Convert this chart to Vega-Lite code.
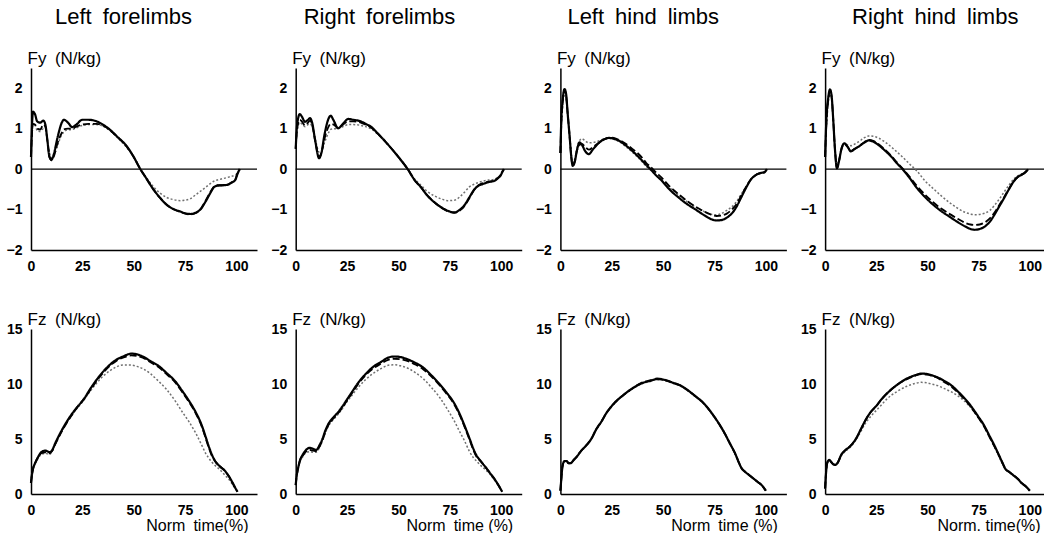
{
"$schema":"https://vega.github.io/schema/vega-lite/v6.json",
"padding":{"left":6,"top":6,"right":0,"bottom":0},
"background":"white",
"data":{"values":[
{"p":"LFy","x":0,"a":0.3,"b":0.3,"c":0.3},{"p":"LFy","x":0.5,"a":1.1,"b":0.9,"c":0.9},{"p":"LFy","x":1,"a":1.42,"b":1.12,"c":1.05},{"p":"LFy","x":2,"a":1.35,"b":1.1,"c":1.08},{"p":"LFy","x":3,"a":1.18,"b":1.0,"c":0.95},{"p":"LFy","x":4.5,"a":1.15,"b":0.98,"c":0.93},{"p":"LFy","x":6,"a":1.2,"b":1.1,"c":1.0},{"p":"LFy","x":7,"a":1.1,"b":1.05,"c":0.98},{"p":"LFy","x":8,"a":0.7,"b":0.7,"c":0.7},{"p":"LFy","x":9,"a":0.3,"b":0.3,"c":0.4},
{"p":"LFy","x":10,"a":0.23,"b":0.22,"c":0.28},{"p":"LFy","x":11,"a":0.35,"b":0.3,"c":0.32},{"p":"LFy","x":13,"a":0.8,"b":0.65,"c":0.6},{"p":"LFy","x":15,"a":1.15,"b":0.9,"c":0.85},{"p":"LFy","x":16,"a":1.22,"b":0.98,"c":0.92},{"p":"LFy","x":18,"a":1.15,"b":1.0,"c":0.97},{"p":"LFy","x":20,"a":1.04,"b":1.0,"c":0.98},{"p":"LFy","x":22,"a":1.1,"b":1.05,"c":1.02},{"p":"LFy","x":25,"a":1.22,"b":1.1,"c":1.08},{"p":"LFy","x":28,"a":1.22,"b":1.12,"c":1.1},
{"p":"LFy","x":32,"a":1.18,"b":1.12,"c":1.1},{"p":"LFy","x":35,"a":1.1,"b":1.08,"c":1.06},{"p":"LFy","x":38.5,"a":0.97,"b":0.96,"c":0.95},{"p":"LFy","x":42,"a":0.8,"b":0.8,"c":0.78},{"p":"LFy","x":46.7,"a":0.56,"b":0.55,"c":0.53},{"p":"LFy","x":50,"a":0.3,"b":0.3,"c":0.3},{"p":"LFy","x":53,"a":0.02,"b":0.02,"c":0.03},{"p":"LFy","x":56,"a":-0.22,"b":-0.22,"c":-0.2},{"p":"LFy","x":59.7,"a":-0.51,"b":-0.51,"c":-0.44},{"p":"LFy","x":63,"a":-0.72,"b":-0.72,"c":-0.6},
{"p":"LFy","x":66,"a":-0.88,"b":-0.88,"c":-0.7},{"p":"LFy","x":69,"a":-0.98,"b":-0.98,"c":-0.75},{"p":"LFy","x":72.7,"a":-1.05,"b":-1.06,"c":-0.78},{"p":"LFy","x":75,"a":-1.09,"b":-1.1,"c":-0.77},{"p":"LFy","x":77.6,"a":-1.11,"b":-1.12,"c":-0.73},{"p":"LFy","x":80,"a":-1.08,"b":-1.09,"c":-0.64},{"p":"LFy","x":82.4,"a":-1.0,"b":-1.0,"c":-0.55},{"p":"LFy","x":85,"a":-0.8,"b":-0.78,"c":-0.45},{"p":"LFy","x":87.3,"a":-0.59,"b":-0.57,"c":-0.36},{"p":"LFy","x":89,"a":-0.45,"b":-0.44,"c":-0.3},
{"p":"LFy","x":90.6,"a":-0.41,"b":-0.4,"c":-0.27},{"p":"LFy","x":93,"a":-0.4,"b":-0.4,"c":-0.24},{"p":"LFy","x":95.4,"a":-0.39,"b":-0.39,"c":-0.21},{"p":"LFy","x":97.5,"a":-0.34,"b":-0.33,"c":-0.18},{"p":"LFy","x":99.5,"a":-0.26,"b":-0.25,"c":-0.15},{"p":"LFy","x":100.5,"a":-0.12,"b":-0.1,"c":-0.08},{"p":"LFy","x":101.6,"a":0,"b":0,"c":0},

{"p":"RFy","x":0,"a":0.5,"b":0.5,"c":0.5},{"p":"RFy","x":0.7,"a":1.1,"b":1.0,"c":0.95},{"p":"RFy","x":2,"a":1.36,"b":1.22,"c":1.15},{"p":"RFy","x":3,"a":1.3,"b":1.18,"c":1.12},{"p":"RFy","x":4.5,"a":1.17,"b":1.08,"c":1.05},{"p":"RFy","x":6,"a":1.22,"b":1.15,"c":1.1},{"p":"RFy","x":7,"a":1.26,"b":1.2,"c":1.12},{"p":"RFy","x":8,"a":1.15,"b":1.1,"c":1.05},{"p":"RFy","x":9.5,"a":0.7,"b":0.7,"c":0.75},{"p":"RFy","x":11.4,"a":0.27,"b":0.3,"c":0.42},
{"p":"RFy","x":12.5,"a":0.4,"b":0.4,"c":0.42},{"p":"RFy","x":14,"a":0.85,"b":0.75,"c":0.65},{"p":"RFy","x":16,"a":1.25,"b":1.05,"c":0.9},{"p":"RFy","x":17,"a":1.32,"b":1.12,"c":0.98},{"p":"RFy","x":18.5,"a":1.2,"b":1.1,"c":1.0},{"p":"RFy","x":20.6,"a":1.01,"b":1.02,"c":1.0},{"p":"RFy","x":23,"a":1.12,"b":1.1,"c":1.05},{"p":"RFy","x":25.5,"a":1.24,"b":1.18,"c":1.1},{"p":"RFy","x":28,"a":1.22,"b":1.18,"c":1.1},{"p":"RFy","x":31.7,"a":1.18,"b":1.15,"c":1.08},
{"p":"RFy","x":34,"a":1.12,"b":1.1,"c":1.05},{"p":"RFy","x":36.6,"a":1.05,"b":1.03,"c":1.0},{"p":"RFy","x":40,"a":0.88,"b":0.87,"c":0.86},{"p":"RFy","x":44.7,"a":0.62,"b":0.62,"c":0.62},{"p":"RFy","x":50,"a":0.3,"b":0.3,"c":0.3},{"p":"RFy","x":54.5,"a":0,"b":0,"c":0},{"p":"RFy","x":58,"a":-0.28,"b":-0.28,"c":-0.25},{"p":"RFy","x":61,"a":-0.45,"b":-0.45,"c":-0.4},{"p":"RFy","x":64,"a":-0.65,"b":-0.65,"c":-0.55},{"p":"RFy","x":67.5,"a":-0.82,"b":-0.82,"c":-0.66},
{"p":"RFy","x":71,"a":-0.95,"b":-0.96,"c":-0.74},{"p":"RFy","x":74,"a":-1.03,"b":-1.04,"c":-0.78},{"p":"RFy","x":77.2,"a":-1.07,"b":-1.08,"c":-0.77},{"p":"RFy","x":80,"a":-1.0,"b":-1.02,"c":-0.68},{"p":"RFy","x":82,"a":-0.9,"b":-0.92,"c":-0.58},{"p":"RFy","x":84.5,"a":-0.7,"b":-0.72,"c":-0.44},{"p":"RFy","x":87,"a":-0.5,"b":-0.5,"c":-0.37},{"p":"RFy","x":89,"a":-0.41,"b":-0.4,"c":-0.33},{"p":"RFy","x":91,"a":-0.37,"b":-0.35,"c":-0.3},{"p":"RFy","x":94,"a":-0.32,"b":-0.31,"c":-0.27},
{"p":"RFy","x":96.7,"a":-0.29,"b":-0.28,"c":-0.25},{"p":"RFy","x":98.5,"a":-0.22,"b":-0.22,"c":-0.2},{"p":"RFy","x":99.7,"a":-0.16,"b":-0.15,"c":-0.14},{"p":"RFy","x":100.5,"a":-0.08,"b":-0.07,"c":-0.07},{"p":"RFy","x":101.3,"a":0,"b":0,"c":0},

{"p":"LHy","x":0,"a":0.4,"b":0.4,"c":0.4},{"p":"LHy","x":0.5,"a":1.3,"b":1.2,"c":1.1},{"p":"LHy","x":1,"a":1.65,"b":1.6,"c":1.5},{"p":"LHy","x":2,"a":1.98,"b":1.95,"c":1.85},{"p":"LHy","x":2.8,"a":1.85,"b":1.8,"c":1.75},{"p":"LHy","x":3.5,"a":1.4,"b":1.4,"c":1.4},{"p":"LHy","x":4.5,"a":0.8,"b":0.8,"c":0.85},{"p":"LHy","x":5.3,"a":0.3,"b":0.3,"c":0.4},{"p":"LHy","x":6,"a":0.08,"b":0.08,"c":0.15},{"p":"LHy","x":7,"a":0.18,"b":0.2,"c":0.25},
{"p":"LHy","x":8,"a":0.45,"b":0.45,"c":0.5},{"p":"LHy","x":9.3,"a":0.66,"b":0.6,"c":0.7},{"p":"LHy","x":10.5,"a":0.6,"b":0.62,"c":0.75},{"p":"LHy","x":12,"a":0.45,"b":0.55,"c":0.7},{"p":"LHy","x":13.8,"a":0.37,"b":0.48,"c":0.65},{"p":"LHy","x":16,"a":0.5,"b":0.55,"c":0.66},{"p":"LHy","x":19,"a":0.66,"b":0.66,"c":0.7},{"p":"LHy","x":21,"a":0.73,"b":0.73,"c":0.74},{"p":"LHy","x":23.8,"a":0.77,"b":0.78,"c":0.76},{"p":"LHy","x":26,"a":0.75,"b":0.77,"c":0.74},
{"p":"LHy","x":28.6,"a":0.7,"b":0.72,"c":0.68},{"p":"LHy","x":32,"a":0.58,"b":0.62,"c":0.55},{"p":"LHy","x":35,"a":0.45,"b":0.5,"c":0.42},{"p":"LHy","x":37.5,"a":0.33,"b":0.4,"c":0.3},{"p":"LHy","x":39.8,"a":0.21,"b":0.28,"c":0.18},{"p":"LHy","x":41.8,"a":0.1,"b":0.15,"c":0.07},{"p":"LHy","x":43.8,"a":0,"b":0.06,"c":-0.02},{"p":"LHy","x":46.5,"a":-0.15,"b":-0.08,"c":-0.15},{"p":"LHy","x":49.4,"a":-0.29,"b":-0.22,"c":-0.28},{"p":"LHy","x":53,"a":-0.5,"b":-0.42,"c":-0.45},
{"p":"LHy","x":57.5,"a":-0.7,"b":-0.62,"c":-0.64},{"p":"LHy","x":61.5,"a":-0.86,"b":-0.78,"c":-0.8},{"p":"LHy","x":65.5,"a":-0.99,"b":-0.92,"c":-0.93},{"p":"LHy","x":70,"a":-1.14,"b":-1.05,"c":-1.05},{"p":"LHy","x":73.5,"a":-1.24,"b":-1.13,"c":-1.12},{"p":"LHy","x":76,"a":-1.27,"b":-1.16,"c":-1.13},{"p":"LHy","x":78.3,"a":-1.26,"b":-1.15,"c":-1.1},{"p":"LHy","x":81,"a":-1.2,"b":-1.1,"c":-1.02},{"p":"LHy","x":83,"a":-1.12,"b":-1.02,"c":-0.95},{"p":"LHy","x":85.5,"a":-0.95,"b":-0.88,"c":-0.82},
{"p":"LHy","x":88,"a":-0.7,"b":-0.66,"c":-0.62},{"p":"LHy","x":90.5,"a":-0.45,"b":-0.43,"c":-0.42},{"p":"LHy","x":92.8,"a":-0.25,"b":-0.25,"c":-0.25},{"p":"LHy","x":94.5,"a":-0.17,"b":-0.17,"c":-0.17},{"p":"LHy","x":96,"a":-0.12,"b":-0.12,"c":-0.12},{"p":"LHy","x":98,"a":-0.09,"b":-0.09,"c":-0.09},{"p":"LHy","x":99.2,"a":-0.08,"b":-0.08,"c":-0.07},{"p":"LHy","x":100.5,"a":0,"b":0,"c":0},

{"p":"RHy","x":0,"a":0.3,"b":0.3,"c":0.3},{"p":"RHy","x":0.6,"a":1.2,"b":1.1,"c":1.0},{"p":"RHy","x":1.5,"a":1.75,"b":1.7,"c":1.6},{"p":"RHy","x":2.4,"a":1.97,"b":1.93,"c":1.9},{"p":"RHy","x":3.2,"a":1.8,"b":1.78,"c":1.75},{"p":"RHy","x":4,"a":1.2,"b":1.2,"c":1.2},{"p":"RHy","x":4.8,"a":0.5,"b":0.5,"c":0.55},{"p":"RHy","x":5.8,"a":0.02,"b":0.03,"c":0.1},{"p":"RHy","x":6.8,"a":0.2,"b":0.2,"c":0.25},{"p":"RHy","x":8,"a":0.5,"b":0.5,"c":0.52},
{"p":"RHy","x":9.4,"a":0.64,"b":0.62,"c":0.64},{"p":"RHy","x":11,"a":0.55,"b":0.55,"c":0.6},{"p":"RHy","x":12.6,"a":0.44,"b":0.45,"c":0.58},{"p":"RHy","x":14.5,"a":0.5,"b":0.5,"c":0.62},{"p":"RHy","x":16.5,"a":0.56,"b":0.57,"c":0.68},{"p":"RHy","x":19,"a":0.65,"b":0.66,"c":0.77},{"p":"RHy","x":21.3,"a":0.71,"b":0.72,"c":0.82},{"p":"RHy","x":23.5,"a":0.68,"b":0.7,"c":0.81},{"p":"RHy","x":26,"a":0.6,"b":0.62,"c":0.77},{"p":"RHy","x":29,"a":0.47,"b":0.49,"c":0.68},
{"p":"RHy","x":32.3,"a":0.31,"b":0.33,"c":0.55},{"p":"RHy","x":35,"a":0.15,"b":0.17,"c":0.43},{"p":"RHy","x":37.8,"a":0,"b":0.02,"c":0.3},{"p":"RHy","x":41,"a":-0.2,"b":-0.17,"c":0.14},{"p":"RHy","x":44.9,"a":-0.47,"b":-0.42,"c":-0.05},{"p":"RHy","x":49,"a":-0.7,"b":-0.64,"c":-0.3},{"p":"RHy","x":52.8,"a":-0.88,"b":-0.82,"c":-0.48},{"p":"RHy","x":56.5,"a":-1.03,"b":-0.97,"c":-0.65},{"p":"RHy","x":60.6,"a":-1.17,"b":-1.1,"c":-0.82},{"p":"RHy","x":64.5,"a":-1.3,"b":-1.22,"c":-0.96},
{"p":"RHy","x":68.5,"a":-1.42,"b":-1.33,"c":-1.07},{"p":"RHy","x":71,"a":-1.48,"b":-1.37,"c":-1.11},{"p":"RHy","x":73.2,"a":-1.5,"b":-1.38,"c":-1.13},{"p":"RHy","x":75.5,"a":-1.48,"b":-1.37,"c":-1.12},{"p":"RHy","x":78,"a":-1.42,"b":-1.32,"c":-1.09},{"p":"RHy","x":80.5,"a":-1.3,"b":-1.22,"c":-1.02},{"p":"RHy","x":82.7,"a":-1.13,"b":-1.08,"c":-0.9},{"p":"RHy","x":85,"a":-0.93,"b":-0.9,"c":-0.75},{"p":"RHy","x":87.4,"a":-0.72,"b":-0.7,"c":-0.57},{"p":"RHy","x":89.8,"a":-0.5,"b":-0.49,"c":-0.4},
{"p":"RHy","x":92.1,"a":-0.31,"b":-0.3,"c":-0.25},{"p":"RHy","x":94,"a":-0.2,"b":-0.2,"c":-0.17},{"p":"RHy","x":96,"a":-0.14,"b":-0.14,"c":-0.12},{"p":"RHy","x":97.8,"a":-0.08,"b":-0.08,"c":-0.07},{"p":"RHy","x":99.2,"a":0,"b":0,"c":0},

{"p":"LFz","x":0,"a":1.0,"b":1.0,"c":1.0},{"p":"LFz","x":0.5,"a":1.8,"b":1.8,"c":1.8},{"p":"LFz","x":1,"a":2.3,"b":2.3,"c":2.3},{"p":"LFz","x":2,"a":2.8,"b":2.8,"c":2.8},{"p":"LFz","x":3,"a":3.2,"b":3.2,"c":3.1},{"p":"LFz","x":5,"a":3.8,"b":3.7,"c":3.6},{"p":"LFz","x":7,"a":3.95,"b":3.8,"c":3.7},{"p":"LFz","x":9,"a":3.8,"b":3.7,"c":3.6},{"p":"LFz","x":10,"a":3.9,"b":3.85,"c":3.8},{"p":"LFz","x":12,"a":4.7,"b":4.6,"c":4.6},
{"p":"LFz","x":15,"a":5.8,"b":5.7,"c":5.7},{"p":"LFz","x":17.5,"a":6.6,"b":6.5,"c":6.5},{"p":"LFz","x":20,"a":7.3,"b":7.2,"c":7.2},{"p":"LFz","x":22.5,"a":7.9,"b":7.9,"c":7.8},{"p":"LFz","x":25.6,"a":8.6,"b":8.6,"c":8.5},{"p":"LFz","x":29,"a":9.6,"b":9.5,"c":9.4},{"p":"LFz","x":32,"a":10.4,"b":10.3,"c":10.1},{"p":"LFz","x":35,"a":11.1,"b":11.0,"c":10.7},{"p":"LFz","x":38.4,"a":11.75,"b":11.65,"c":11.2},{"p":"LFz","x":41.5,"a":12.2,"b":12.1,"c":11.55},
{"p":"LFz","x":44.8,"a":12.5,"b":12.4,"c":11.72},{"p":"LFz","x":48.8,"a":12.76,"b":12.6,"c":11.72},{"p":"LFz","x":51.5,"a":12.7,"b":12.55,"c":11.6},{"p":"LFz","x":54.4,"a":12.5,"b":12.4,"c":11.4},{"p":"LFz","x":58,"a":12.1,"b":12.0,"c":10.95},{"p":"LFz","x":62.4,"a":11.6,"b":11.5,"c":10.2},{"p":"LFz","x":66,"a":11.0,"b":10.9,"c":9.5},{"p":"LFz","x":70.4,"a":10.2,"b":10.1,"c":8.4},{"p":"LFz","x":73.5,"a":9.4,"b":9.3,"c":7.5},{"p":"LFz","x":76.8,"a":8.5,"b":8.4,"c":6.6},
{"p":"LFz","x":80,"a":7.5,"b":7.4,"c":5.6},{"p":"LFz","x":83.2,"a":6.2,"b":6.1,"c":4.4},{"p":"LFz","x":85,"a":5.2,"b":5.1,"c":3.7},{"p":"LFz","x":86.4,"a":4.4,"b":4.3,"c":3.3},{"p":"LFz","x":88,"a":3.6,"b":3.5,"c":2.9},{"p":"LFz","x":89.6,"a":3.0,"b":3.0,"c":2.6},{"p":"LFz","x":92,"a":2.5,"b":2.5,"c":2.2},{"p":"LFz","x":94.4,"a":2.1,"b":2.1,"c":1.7},{"p":"LFz","x":96,"a":1.7,"b":1.7,"c":1.4},{"p":"LFz","x":97.6,"a":1.2,"b":1.2,"c":1.0},
{"p":"LFz","x":99,"a":0.7,"b":0.7,"c":0.6},{"p":"LFz","x":100.5,"a":0.2,"b":0.2,"c":0.2},

{"p":"RFz","x":0,"a":0.8,"b":0.8,"c":0.8},{"p":"RFz","x":0.5,"a":1.7,"b":1.7,"c":1.6},{"p":"RFz","x":1,"a":2.2,"b":2.2,"c":2.1},{"p":"RFz","x":2,"a":3.0,"b":3.0,"c":2.9},{"p":"RFz","x":3.5,"a":3.6,"b":3.5,"c":3.4},{"p":"RFz","x":5,"a":4.0,"b":3.85,"c":3.75},{"p":"RFz","x":7,"a":4.2,"b":4.0,"c":3.85},{"p":"RFz","x":8.5,"a":4.1,"b":3.95,"c":3.8},{"p":"RFz","x":10,"a":4.0,"b":3.9,"c":3.8},{"p":"RFz","x":11.5,"a":4.4,"b":4.3,"c":4.2},
{"p":"RFz","x":13,"a":5.0,"b":4.9,"c":4.8},{"p":"RFz","x":14.5,"a":5.8,"b":5.7,"c":5.6},{"p":"RFz","x":16,"a":6.4,"b":6.3,"c":6.2},{"p":"RFz","x":18,"a":6.9,"b":6.8,"c":6.7},{"p":"RFz","x":20,"a":7.3,"b":7.2,"c":7.1},{"p":"RFz","x":22.5,"a":7.9,"b":7.8,"c":7.7},{"p":"RFz","x":25,"a":8.6,"b":8.5,"c":8.4},{"p":"RFz","x":27.5,"a":9.3,"b":9.2,"c":9.0},{"p":"RFz","x":30,"a":10.0,"b":9.9,"c":9.6},{"p":"RFz","x":34,"a":10.9,"b":10.8,"c":10.4},
{"p":"RFz","x":38,"a":11.6,"b":11.45,"c":11.0},{"p":"RFz","x":41.5,"a":12.0,"b":11.85,"c":11.4},{"p":"RFz","x":45,"a":12.4,"b":12.2,"c":11.7},{"p":"RFz","x":48,"a":12.5,"b":12.3,"c":11.75},{"p":"RFz","x":51,"a":12.45,"b":12.25,"c":11.65},{"p":"RFz","x":55,"a":12.2,"b":12.05,"c":11.4},{"p":"RFz","x":58.5,"a":11.9,"b":11.75,"c":11.0},{"p":"RFz","x":62,"a":11.5,"b":11.35,"c":10.5},{"p":"RFz","x":66,"a":10.8,"b":10.7,"c":9.7},{"p":"RFz","x":70,"a":10.0,"b":9.9,"c":8.8},
{"p":"RFz","x":73.5,"a":9.2,"b":9.1,"c":7.8},{"p":"RFz","x":77,"a":8.3,"b":8.2,"c":6.7},{"p":"RFz","x":80,"a":7.2,"b":7.1,"c":5.6},{"p":"RFz","x":82,"a":6.3,"b":6.2,"c":4.9},{"p":"RFz","x":84.5,"a":5.1,"b":5.0,"c":3.9},{"p":"RFz","x":86.5,"a":4.1,"b":4.0,"c":3.3},{"p":"RFz","x":88,"a":3.5,"b":3.4,"c":3.0},{"p":"RFz","x":90,"a":3.0,"b":3.0,"c":2.6},{"p":"RFz","x":93,"a":2.3,"b":2.3,"c":2.1},{"p":"RFz","x":95,"a":1.8,"b":1.8,"c":1.7},
{"p":"RFz","x":97,"a":1.3,"b":1.3,"c":1.2},{"p":"RFz","x":99,"a":0.7,"b":0.7,"c":0.7},{"p":"RFz","x":100.5,"a":0.2,"b":0.2,"c":0.2},

{"p":"LHz","x":0,"a":0.3,"b":0.3,"c":0.3},{"p":"LHz","x":0.5,"a":1.5,"b":1.5,"c":1.5},{"p":"LHz","x":1,"a":2.5,"b":2.5,"c":2.4},{"p":"LHz","x":2,"a":3.0,"b":3.0,"c":2.9},{"p":"LHz","x":3,"a":3.0,"b":3.0,"c":2.9},{"p":"LHz","x":4,"a":2.8,"b":2.8,"c":2.8},{"p":"LHz","x":5,"a":2.8,"b":2.8,"c":2.8},{"p":"LHz","x":6.5,"a":3.1,"b":3.1,"c":3.1},{"p":"LHz","x":8,"a":3.4,"b":3.4,"c":3.4},{"p":"LHz","x":10,"a":3.9,"b":3.9,"c":3.9},
{"p":"LHz","x":12,"a":4.3,"b":4.3,"c":4.3},{"p":"LHz","x":15,"a":5.0,"b":5.0,"c":5.0},{"p":"LHz","x":17.5,"a":5.9,"b":5.9,"c":5.85},{"p":"LHz","x":20,"a":6.6,"b":6.6,"c":6.55},{"p":"LHz","x":22.5,"a":7.4,"b":7.4,"c":7.35},{"p":"LHz","x":25,"a":8.0,"b":8.0,"c":7.95},{"p":"LHz","x":27.5,"a":8.5,"b":8.5,"c":8.45},{"p":"LHz","x":30,"a":8.9,"b":8.9,"c":8.85},{"p":"LHz","x":35,"a":9.6,"b":9.6,"c":9.55},{"p":"LHz","x":40,"a":10.1,"b":10.15,"c":10.05},
{"p":"LHz","x":44,"a":10.3,"b":10.35,"c":10.25},{"p":"LHz","x":47,"a":10.45,"b":10.5,"c":10.4},{"p":"LHz","x":50,"a":10.4,"b":10.45,"c":10.35},{"p":"LHz","x":52,"a":10.3,"b":10.3,"c":10.25},{"p":"LHz","x":55,"a":10.1,"b":10.1,"c":10.05},{"p":"LHz","x":58,"a":9.9,"b":9.9,"c":9.85},{"p":"LHz","x":61.5,"a":9.5,"b":9.5,"c":9.45},{"p":"LHz","x":65,"a":9.0,"b":9.0,"c":8.95},{"p":"LHz","x":70,"a":8.2,"b":8.2,"c":8.15},{"p":"LHz","x":75,"a":7.0,"b":7.0,"c":6.95},
{"p":"LHz","x":77.5,"a":6.3,"b":6.3,"c":6.25},{"p":"LHz","x":80,"a":5.5,"b":5.5,"c":5.45},{"p":"LHz","x":82.5,"a":4.6,"b":4.6,"c":4.55},{"p":"LHz","x":85,"a":3.7,"b":3.7,"c":3.65},{"p":"LHz","x":87,"a":2.8,"b":2.8,"c":2.8},{"p":"LHz","x":88,"a":2.4,"b":2.4,"c":2.4},{"p":"LHz","x":90,"a":2.0,"b":2.0,"c":2.0},{"p":"LHz","x":92,"a":1.7,"b":1.7,"c":1.7},{"p":"LHz","x":94,"a":1.4,"b":1.4,"c":1.4},{"p":"LHz","x":96,"a":1.1,"b":1.1,"c":1.1},
{"p":"LHz","x":98,"a":0.8,"b":0.8,"c":0.8},{"p":"LHz","x":100,"a":0.3,"b":0.3,"c":0.3},

{"p":"RHz","x":0,"a":0.5,"b":0.5,"c":0.5},{"p":"RHz","x":0.5,"a":2.0,"b":2.0,"c":2.0},{"p":"RHz","x":1,"a":2.8,"b":2.8,"c":2.8},{"p":"RHz","x":2,"a":3.1,"b":3.1,"c":3.1},{"p":"RHz","x":3,"a":2.9,"b":2.9,"c":2.9},{"p":"RHz","x":4,"a":2.7,"b":2.7,"c":2.7},{"p":"RHz","x":5,"a":2.65,"b":2.65,"c":2.65},{"p":"RHz","x":6,"a":2.8,"b":2.8,"c":2.8},{"p":"RHz","x":8,"a":3.6,"b":3.6,"c":3.5},{"p":"RHz","x":10,"a":4.0,"b":4.0,"c":3.9},
{"p":"RHz","x":12,"a":4.3,"b":4.3,"c":4.2},{"p":"RHz","x":15,"a":5.0,"b":5.0,"c":4.9},{"p":"RHz","x":17.5,"a":5.9,"b":5.9,"c":5.7},{"p":"RHz","x":20,"a":6.8,"b":6.8,"c":6.5},{"p":"RHz","x":22.5,"a":7.5,"b":7.5,"c":7.1},{"p":"RHz","x":25,"a":8.0,"b":8.0,"c":7.6},{"p":"RHz","x":27.5,"a":8.6,"b":8.6,"c":8.1},{"p":"RHz","x":30,"a":9.1,"b":9.1,"c":8.6},{"p":"RHz","x":35,"a":9.9,"b":9.9,"c":9.3},{"p":"RHz","x":40,"a":10.5,"b":10.45,"c":9.8},
{"p":"RHz","x":44,"a":10.8,"b":10.75,"c":10.05},{"p":"RHz","x":47,"a":10.95,"b":10.9,"c":10.15},{"p":"RHz","x":50,"a":10.9,"b":10.85,"c":10.1},{"p":"RHz","x":52,"a":10.8,"b":10.75,"c":10.0},{"p":"RHz","x":55,"a":10.6,"b":10.55,"c":9.85},{"p":"RHz","x":58,"a":10.3,"b":10.2,"c":9.6},{"p":"RHz","x":61.5,"a":9.9,"b":9.8,"c":9.3},{"p":"RHz","x":65,"a":9.3,"b":9.2,"c":8.9},{"p":"RHz","x":70,"a":8.3,"b":8.2,"c":8.1},{"p":"RHz","x":75,"a":7.0,"b":6.9,"c":6.9},
{"p":"RHz","x":77.5,"a":6.3,"b":6.2,"c":6.2},{"p":"RHz","x":80,"a":5.4,"b":5.3,"c":5.3},{"p":"RHz","x":82.5,"a":4.5,"b":4.4,"c":4.4},{"p":"RHz","x":85,"a":3.5,"b":3.5,"c":3.4},{"p":"RHz","x":87,"a":2.7,"b":2.7,"c":2.6},{"p":"RHz","x":88,"a":2.3,"b":2.3,"c":2.3},{"p":"RHz","x":90,"a":2.0,"b":2.0,"c":2.0},{"p":"RHz","x":92,"a":1.7,"b":1.7,"c":1.7},{"p":"RHz","x":94,"a":1.4,"b":1.4,"c":1.4},{"p":"RHz","x":96,"a":1.0,"b":1.0,"c":1.0},
{"p":"RHz","x":98,"a":0.7,"b":0.7,"c":0.7},{"p":"RHz","x":100,"a":0.3,"b":0.3,"c":0.3}
]},
"vconcat":[
{"hconcat":[
{"width":226,"height":182,"title":{"text":"Left\u2002forelimbs","dx":24},
 "layer":[
  {"data":{"values":[{}]},"mark":{"type":"rule","color":"#000","strokeWidth":1.4},"encoding":{"y":{"datum":0,"type":"quantitative"}}},
  {"transform":[{"filter":"datum.p=='LFy'"},{"fold":["c","b","a"],"as":["s","v"]}],
   "mark":{"type":"line"},
   "encoding":{
    "x":{"field":"x","type":"quantitative","scale":{"domain":[0,110],"nice":false,"zero":false},"axis":{"title":null,"values":[0,25,50,75,100]}},
    "y":{"field":"v","type":"quantitative","scale":{"domain":[-2,2.5],"nice":false,"zero":false},"axis":{"values":[-2,-1,0,1,2],"title":"Fy\u2002(N/kg)"}},
    "color":{"field":"s","type":"nominal","scale":{"domain":["a","b","c"],"range":["#000000","#000000","#707070"]},"legend":null},
    "strokeDash":{"field":"s","type":"nominal","scale":{"domain":["a","b","c"],"range":[[1,0],[7,3],[2,2]]},"legend":null},
    "strokeWidth":{"field":"s","type":"ordinal","scale":{"domain":["a","b","c"],"range":[2.2,1.5,1]},"legend":null}
   }}
 ]},
{"width":226,"height":182,"title":{"text":"Right\u2002forelimbs","dx":8},
 "layer":[
  {"data":{"values":[{}]},"mark":{"type":"rule","color":"#000","strokeWidth":1.4},"encoding":{"y":{"datum":0,"type":"quantitative"}}},
  {"transform":[{"filter":"datum.p=='RFy'"},{"fold":["c","b","a"],"as":["s","v"]}],
   "mark":{"type":"line"},
   "encoding":{
    "x":{"field":"x","type":"quantitative","scale":{"domain":[0,110],"nice":false,"zero":false},"axis":{"title":null,"values":[0,25,50,75,100]}},
    "y":{"field":"v","type":"quantitative","scale":{"domain":[-2,2.5],"nice":false,"zero":false},"axis":{"values":[-2,-1,0,1,2],"title":"Fy\u2002(N/kg)"}},
    "color":{"field":"s","type":"nominal","scale":{"domain":["a","b","c"],"range":["#000000","#000000","#707070"]},"legend":null},
    "strokeDash":{"field":"s","type":"nominal","scale":{"domain":["a","b","c"],"range":[[1,0],[7,3],[2,2]]},"legend":null},
    "strokeWidth":{"field":"s","type":"ordinal","scale":{"domain":["a","b","c"],"range":[2.2,1.5,1]},"legend":null}
   }}
 ]},
{"width":226,"height":182,"title":{"text":"Left\u2002hind\u2002limbs","dx":7},
 "layer":[
  {"data":{"values":[{}]},"mark":{"type":"rule","color":"#000","strokeWidth":1.4},"encoding":{"y":{"datum":0,"type":"quantitative"}}},
  {"transform":[{"filter":"datum.p=='LHy'"},{"fold":["c","b","a"],"as":["s","v"]}],
   "mark":{"type":"line"},
   "encoding":{
    "x":{"field":"x","type":"quantitative","scale":{"domain":[0,110],"nice":false,"zero":false},"axis":{"title":null,"values":[0,25,50,75,100]}},
    "y":{"field":"v","type":"quantitative","scale":{"domain":[-2,2.5],"nice":false,"zero":false},"axis":{"values":[-2,-1,0,1,2],"title":"Fy\u2002(N/kg)"}},
    "color":{"field":"s","type":"nominal","scale":{"domain":["a","b","c"],"range":["#000000","#000000","#707070"]},"legend":null},
    "strokeDash":{"field":"s","type":"nominal","scale":{"domain":["a","b","c"],"range":[[1,0],[7,3],[2,2]]},"legend":null},
    "strokeWidth":{"field":"s","type":"ordinal","scale":{"domain":["a","b","c"],"range":[2.2,1.5,1]},"legend":null}
   }}
 ]},
{"width":219,"height":182,"title":{"text":"Right\u2002hind\u2002limbs","dx":27},
 "layer":[
  {"data":{"values":[{}]},"mark":{"type":"rule","color":"#000","strokeWidth":1.4},"encoding":{"y":{"datum":0,"type":"quantitative"}}},
  {"transform":[{"filter":"datum.p=='RHy'"},{"fold":["c","b","a"],"as":["s","v"]}],
   "mark":{"type":"line"},
   "encoding":{
    "x":{"field":"x","type":"quantitative","scale":{"domain":[0,107],"nice":false,"zero":false},"axis":{"title":null,"values":[0,25,50,75,100]}},
    "y":{"field":"v","type":"quantitative","scale":{"domain":[-2,2.5],"nice":false,"zero":false},"axis":{"values":[-2,-1,0,1,2],"title":"Fy\u2002(N/kg)"}},
    "color":{"field":"s","type":"nominal","scale":{"domain":["a","b","c"],"range":["#000000","#000000","#707070"]},"legend":null},
    "strokeDash":{"field":"s","type":"nominal","scale":{"domain":["a","b","c"],"range":[[1,0],[7,3],[2,2]]},"legend":null},
    "strokeWidth":{"field":"s","type":"ordinal","scale":{"domain":["a","b","c"],"range":[2.2,1.5,1]},"legend":null}
   }}
 ]}
],"spacing":38.7,"bounds":"flush","resolve":{"scale":{"x":"independent","y":"independent"}}},
{"hconcat":[
{"width":226,"height":165,
 "transform":[{"filter":"datum.p=='LFz'"},{"fold":["c","b","a"],"as":["s","v"]}],
 "mark":{"type":"line"},
 "encoding":{
  "x":{"field":"x","type":"quantitative","scale":{"domain":[0,110],"nice":false,"zero":false},"axis":{"values":[0,25,50,75,100],"title":"Norm\u2002time(%)","titleX":217,"titleY":36,"titleAlign":"right","titleBaseline":"alphabetic","titleFontSize":16}},
  "y":{"field":"v","type":"quantitative","scale":{"domain":[0,15],"nice":false,"zero":false},"axis":{"values":[0,5,10,15],"title":"Fz\u2002(N/kg)"}},
  "color":{"field":"s","type":"nominal","scale":{"domain":["a","b","c"],"range":["#000000","#000000","#707070"]},"legend":null},
  "strokeDash":{"field":"s","type":"nominal","scale":{"domain":["a","b","c"],"range":[[1,0],[7,3],[2,2]]},"legend":null},
  "strokeWidth":{"field":"s","type":"ordinal","scale":{"domain":["a","b","c"],"range":[2.2,1.5,1]},"legend":null}
 }},
{"width":226,"height":165,
 "transform":[{"filter":"datum.p=='RFz'"},{"fold":["c","b","a"],"as":["s","v"]}],
 "mark":{"type":"line"},
 "encoding":{
  "x":{"field":"x","type":"quantitative","scale":{"domain":[0,110],"nice":false,"zero":false},"axis":{"values":[0,25,50,75,100],"title":"Norm\u2002time (%)","titleX":217,"titleY":36,"titleAlign":"right","titleBaseline":"alphabetic","titleFontSize":16}},
  "y":{"field":"v","type":"quantitative","scale":{"domain":[0,15],"nice":false,"zero":false},"axis":{"values":[0,5,10,15],"title":"Fz\u2002(N/kg)"}},
  "color":{"field":"s","type":"nominal","scale":{"domain":["a","b","c"],"range":["#000000","#000000","#707070"]},"legend":null},
  "strokeDash":{"field":"s","type":"nominal","scale":{"domain":["a","b","c"],"range":[[1,0],[7,3],[2,2]]},"legend":null},
  "strokeWidth":{"field":"s","type":"ordinal","scale":{"domain":["a","b","c"],"range":[2.2,1.5,1]},"legend":null}
 }},
{"width":226,"height":165,
 "transform":[{"filter":"datum.p=='LHz'"},{"fold":["c","b","a"],"as":["s","v"]}],
 "mark":{"type":"line"},
 "encoding":{
  "x":{"field":"x","type":"quantitative","scale":{"domain":[0,110],"nice":false,"zero":false},"axis":{"values":[0,25,50,75,100],"title":"Norm\u2002time (%)","titleX":217,"titleY":36,"titleAlign":"right","titleBaseline":"alphabetic","titleFontSize":16}},
  "y":{"field":"v","type":"quantitative","scale":{"domain":[0,15],"nice":false,"zero":false},"axis":{"values":[0,5,10,15],"title":"Fz\u2002(N/kg)"}},
  "color":{"field":"s","type":"nominal","scale":{"domain":["a","b","c"],"range":["#000000","#000000","#707070"]},"legend":null},
  "strokeDash":{"field":"s","type":"nominal","scale":{"domain":["a","b","c"],"range":[[1,0],[7,3],[2,2]]},"legend":null},
  "strokeWidth":{"field":"s","type":"ordinal","scale":{"domain":["a","b","c"],"range":[2.2,1.5,1]},"legend":null}
 }},
{"width":219,"height":165,
 "transform":[{"filter":"datum.p=='RHz'"},{"fold":["c","b","a"],"as":["s","v"]}],
 "mark":{"type":"line"},
 "encoding":{
  "x":{"field":"x","type":"quantitative","scale":{"domain":[0,107],"nice":false,"zero":false},"axis":{"values":[0,25,50,75,100],"title":"Norm. time(%)","titleX":215,"titleY":36,"titleAlign":"right","titleBaseline":"alphabetic","titleFontSize":16}},
  "y":{"field":"v","type":"quantitative","scale":{"domain":[0,15],"nice":false,"zero":false},"axis":{"values":[0,5,10,15],"title":"Fz\u2002(N/kg)"}},
  "color":{"field":"s","type":"nominal","scale":{"domain":["a","b","c"],"range":["#000000","#000000","#707070"]},"legend":null},
  "strokeDash":{"field":"s","type":"nominal","scale":{"domain":["a","b","c"],"range":[[1,0],[7,3],[2,2]]},"legend":null},
  "strokeWidth":{"field":"s","type":"ordinal","scale":{"domain":["a","b","c"],"range":[2.2,1.5,1]},"legend":null}
 }}
],"spacing":38.7,"bounds":"flush","resolve":{"scale":{"x":"independent","y":"independent"}}}
],
"spacing":37,
"resolve":{"scale":{"x":"independent","y":"independent"}},
"config":{
 "view":{"stroke":null},
 "font":"Liberation Sans",
 "axis":{"grid":false,"ticks":false,"domainColor":"#000","domainWidth":1.5,"labelColor":"#000","labelFontSize":14,"labelFontWeight":"bold","labelFont":"Liberation Sans","labelFlush":false,"labelOverlap":false,"titleFont":"Liberation Sans","titleFontWeight":"normal","titleColor":"#000","titleFontSize":17},
 "axisX":{"labelPadding":9},
 "axisY":{"labelPadding":9,"titleAngle":0,"titleAlign":"left","titleBaseline":"alphabetic","titleX":-4,"titleY":-5},
 "title":{"fontSize":22,"fontWeight":"normal","font":"Liberation Sans","color":"#000","anchor":"start","frame":"group","offset":20},
 "line":{"interpolate":"monotone"}
}
}
